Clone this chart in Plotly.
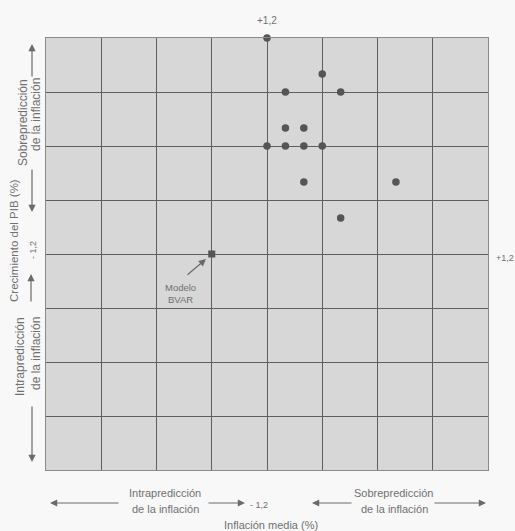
import plotly.graph_objects as go

# Data (units: %; one grid cell = 0.6)
infl_points = [0.0, 0.6, 0.2, 0.8, 0.2, 0.4, 0.0, 0.2, 0.4, 0.6, 0.4, 1.4, 0.8]
gdp_points = [2.4, 2.0, 1.8, 1.8, 1.4, 1.4, 1.2, 1.2, 1.2, 1.2, 0.8, 0.8, 0.4]
bvar_x = [-0.6]
bvar_y = [0.0]

W, H = 515, 531
L, R, T, B = 46, 488, 38, 470


def px(x):
    return (x - L) / (R - L)


def py(y):
    return (B - y) / (B - T)


GRID = "#5e5e5e"
TXT = "#707070"
FONT = "Liberation Sans, Arial, sans-serif"
DOT = "#555555"

fig = go.Figure()
fig.add_trace(go.Scatter(x=infl_points, y=gdp_points, mode="markers",
                         marker=dict(size=7.5, color=DOT), cliponaxis=False,
                         hoverinfo="skip", showlegend=False))
fig.add_trace(go.Scatter(x=bvar_x, y=bvar_y, mode="markers",
                         marker=dict(size=7, color=DOT, symbol="square"), cliponaxis=False,
                         hoverinfo="skip", showlegend=False))

axis = dict(range=[-2.4, 2.4], dtick=0.6, tick0=0, showgrid=True, gridcolor=GRID, gridwidth=1.3,
            zeroline=False, showticklabels=False, ticks="", showline=True, linecolor="#8a8a8a",
            linewidth=1, mirror=True, fixedrange=True)

ann = []


def text(x, y, s, angle=0, size=10.5):
    ann.append(dict(x=px(x), y=py(y), xref="paper", yref="paper", text=s, showarrow=False,
                    textangle=angle, font=dict(family=FONT, size=size, color=TXT),
                    xanchor="center", yanchor="middle", align="center"))


def arrow(x0, y0, x1, y1):
    # tail (x0,y0) -> head (x1,y1), pixel coords
    ann.append(dict(x=px(x1), y=py(y1), xref="paper", yref="paper", ax=x0 - x1, ay=y0 - y1,
                    axref="pixel", ayref="pixel", text="", showarrow=True, arrowhead=2,
                    arrowsize=1.2, arrowwidth=1.2, arrowcolor="#6a6a6a"))


# top / right labels
text(267, 21, "+1,2", size=10)
text(505, 258, "+1,2", size=9)

# left y-axis annotations
arrow(32, 78, 32, 44)
text(23, 123, "Sobrepredicción", angle=-90, size=12)
text(36, 115, "de la inflación", angle=-90, size=12)
arrow(32, 168, 32, 212)
text(14, 241, "Crecimiento del PIB (%)", angle=-90, size=11.5)
text(33, 250, "- 1,2", angle=-90, size=9)
arrow(31, 303, 31, 274)
text(20, 357, "Intrapredicción", angle=-90, size=12)
text(36, 354, "de la inflación", angle=-90, size=12)
arrow(32, 405, 32, 462)

# bottom x-axis annotations
arrow(120, 503, 50, 503)
text(165, 493, "Intrapredicción", size=11)
text(165, 509, "de la inflación", size=11)
arrow(207, 503, 245, 503)
text(259, 505, "- 1,2", size=9)
arrow(353, 503, 312, 503)
text(394, 493, "Sobrepredicción", size=11)
text(394, 509, "de la inflación", size=11)
arrow(433, 503, 486, 503)
text(271, 525, "Inflación media (%)", size=11)

# BVAR model label
arrow(186, 276, 206, 259)
text(180, 287, "Modelo", size=9.5)
text(180, 300, "BVAR", size=9.5)

fig.update_layout(width=W, height=H, autosize=False,
                  margin=dict(l=L, r=W - R, t=T, b=H - B, pad=0),
                  plot_bgcolor="#d7d7d7", paper_bgcolor="#f8f8f8",
                  xaxis=axis, yaxis=axis, annotations=ann, showlegend=False)

fig.write_html("out.html", config={"displayModeBar": False},
               post_script="document.body.style.margin='0';document.body.style.overflow='hidden';")
